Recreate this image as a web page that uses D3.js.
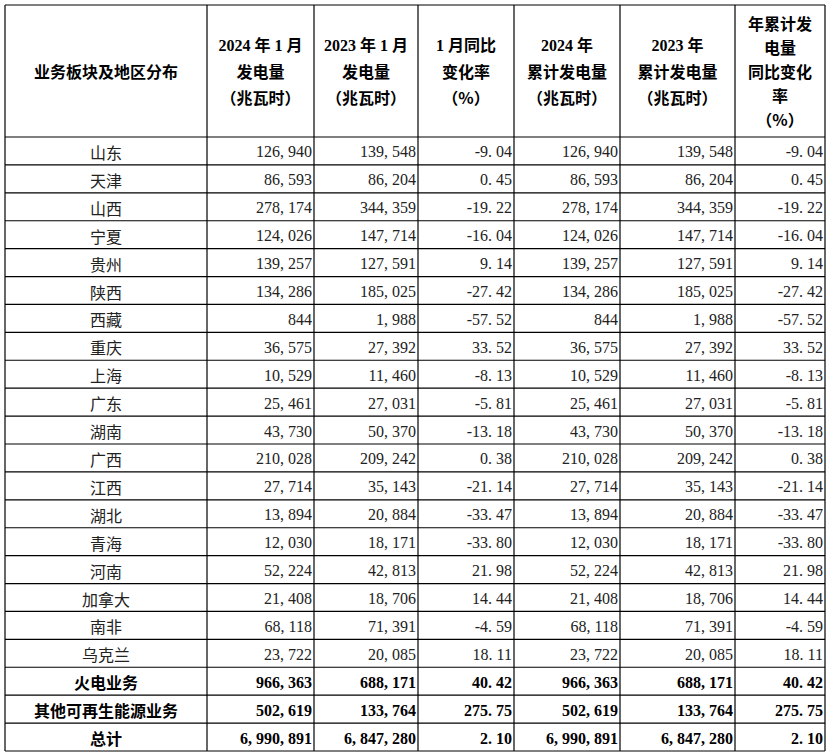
<!DOCTYPE html>
<html><head><meta charset="utf-8">
<script src="https://cdn.jsdelivr.net/npm/d3@7"></script>
<style>body{margin:0;background:#fff}</style></head>
<body><svg id="c" width="830" height="756"></svg>
<script>
const headers = [
  ["业务板块及地区分布"],
  ["2024 年 1 月","发电量","（兆瓦时）"],
  ["2023 年 1 月","发电量","（兆瓦时）"],
  ["1 月同比","变化率","（%）"],
  ["2024 年","累计发电量","（兆瓦时）"],
  ["2023 年","累计发电量","（兆瓦时）"],
  ["年累计发","电量","同比变化","率","（%）"]
];
const regions = ["山东","天津","山西","宁夏","贵州","陕西","西藏","重庆","上海","广东","湖南","广西","江西","湖北","青海","河南","加拿大","南非","乌克兰","火电业务","其他可再生能源业务","总计"];
const jan2024 = ["126,940","86,593","278,174","124,026","139,257","134,286","844","36,575","10,529","25,461","43,730","210,028","27,714","13,894","12,030","52,224","21,408","68,118","23,722","966,363","502,619","6,990,891"];
const jan2023 = ["139,548","86,204","344,359","147,714","127,591","185,025","1,988","27,392","11,460","27,031","50,370","209,242","35,143","20,884","18,171","42,813","18,706","71,391","20,085","688,171","133,764","6,847,280"];
const yoy = ["-9.04","0.45","-19.22","-16.04","9.14","-27.42","-57.52","33.52","-8.13","-5.81","-13.18","0.38","-21.14","-33.47","-33.80","21.98","14.44","-4.59","18.11","40.42","275.75","2.10"];
const cum2024 = jan2024, cum2023 = jan2023, cumYoy = yoy;
const boldRows = 3;

const svg = d3.select("#c");
const edges = [5,207,314,418,514,620,735,825];
const topY = 5, headBottom = 137, bottomY = 751;
const y = d3.scaleBand().domain(d3.range(regions.length)).range([headBottom, bottomY]);
const cols = [regions, jan2024, jan2023, yoy, cum2024, cum2023, cumYoy];
const cjk = "'Noto Sans CJK SC', sans-serif";
const num = "'Liberation Serif','DejaVu Serif',serif";
const fmt = s => s.replace(/,/g,", ").replace(/\./,". ");

headers.forEach((lines,i)=>{
  const cx=(edges[i]+edges[i+1])/2, cy=(topY+headBottom)/2, lh=i==6?24:26;
  lines.forEach((t,k)=>{
    svg.append("text").attr("x",cx).attr("y",cy+(k-(lines.length-1)/2)*lh)
      .attr("text-anchor","middle").attr("dominant-baseline","central")
      .attr("font-family",/[0-9]/.test(t)?num+","+cjk:cjk).attr("font-weight","bold")
      .attr("font-size",16).attr("fill","#000").text(t);
  });
});
regions.forEach((r,ri)=>{
  const bold = ri>=regions.length-boldRows;
  const cy=y(ri)+y.bandwidth()/2+1;
  cols.forEach((col,ci)=>{
    const v=col[ri];
    const t=svg.append("text").attr("y",cy).attr("dominant-baseline","central")
      .attr("font-size",16).attr("fill",bold?"#000":"#222")
      .attr("font-weight",bold?"bold":"normal");
    if(ci==0){
      t.attr("x",(edges[0]+edges[1])/2).attr("text-anchor","middle").attr("font-family",cjk).text(r);
    } else {
      t.attr("x",edges[ci+1]-2).attr("text-anchor","end").attr("font-family",num).text(fmt(v));
    }
  });
});
const g=svg.append("g").attr("stroke","#000").attr("stroke-width",1.2);
edges.forEach(x=>g.append("line").attr("x1",x).attr("x2",x).attr("y1",topY).attr("y2",bottomY));
[topY,headBottom,...regions.map((_,i)=>y(i)+y.bandwidth())].forEach(yy=>
  g.append("line").attr("x1",edges[0]).attr("x2",edges[7]).attr("y1",yy).attr("y2",yy));
</script></body></html>
